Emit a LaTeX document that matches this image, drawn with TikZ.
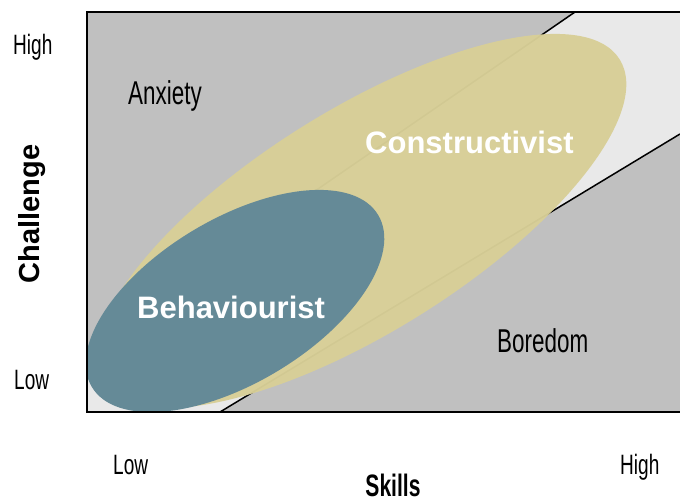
\documentclass[tikz,border=0pt]{standalone}
\usepackage{fontspec}
\setmainfont{Liberation Sans}
\newfontfamily\condf[FakeStretch=0.68]{Liberation Sans}
\definecolor{graybg}{HTML}{C0C0C0}
\definecolor{bandc}{HTML}{E9E9E9}
\definecolor{yel}{HTML}{D8CF97}
\definecolor{tealc}{HTML}{658A97}
\tikzset{
  border/.style={line width=1.5pt, black},
  cond/.style={font=\condf\fontsize{33}{33}\selectfont, text=black, inner sep=0pt},
  axislab/.style={font=\condf\fontsize{28}{28}\selectfont, text=black, inner sep=0pt},
  whitelab/.style={font=\bfseries\fontsize{31}{31}\selectfont, text=white, inner sep=0pt},
}
\begin{document}
\begin{tikzpicture}[x=1pt,y=-1pt]
\useasboundingbox (0,0) rectangle (680,503);
\fill[white] (0,0) rectangle (680,503);
\coordinate (ul1) at (87,348);
\coordinate (ul2) at (575,12);
\coordinate (ll1) at (220,412);
\coordinate (ll2) at (680,134);
\begin{scope}
  \clip (87,12) rectangle (680,412);
  \fill[graybg] (87,12) rectangle (680,412);
  \fill[bandc] (ul1) -- (ul2) -- (680,12) -- (ll2) -- (ll1) -- (87,412) -- cycle;
  \draw[border] (ul1) -- (ul2);
  \draw[border] (ll1) -- (ll2);
  \fill[yel, opacity=0.97, rotate around={32:(361,221)}] (361,221) ellipse [x radius=305pt, y radius=111pt];
  \fill[tealc, rotate around={31:(235,301)}] (235,301) ellipse [x radius=167pt, y radius=82pt];
\end{scope}
\draw[border] (680,12) -- (87,12) -- (87,412) -- (680,412);
% region labels
\node[cond, anchor=base west] (anx) at (128,104) {Anxiety};
\node[cond, anchor=base west] (bor) at (497,352) {Boredom};
\node[whitelab, anchor=base west] (con) at (365,153) {Constructivist};
\node[whitelab, anchor=base west] (beh) at (137,318) {Behaviourist};
% axes
\node[axislab, anchor=base west] (yhigh) at (13,55) {High};
\node[axislab, anchor=base west] (ylow) at (14,389) {Low};
\node[font=\bfseries\fontsize{29}{29}\selectfont, rotate=90, anchor=base, inner sep=0pt] (chal) at (39,214) {Challenge};
\node[axislab, anchor=base west] (xlow) at (113,474) {Low};
\node[axislab, anchor=base west] (xhigh) at (620,474) {High};
\node[font=\condf\bfseries\fontsize{31}{31}\selectfont, anchor=base, inner sep=0pt] (skills) at (393,496) {Skills};
\end{tikzpicture}
\end{document}
